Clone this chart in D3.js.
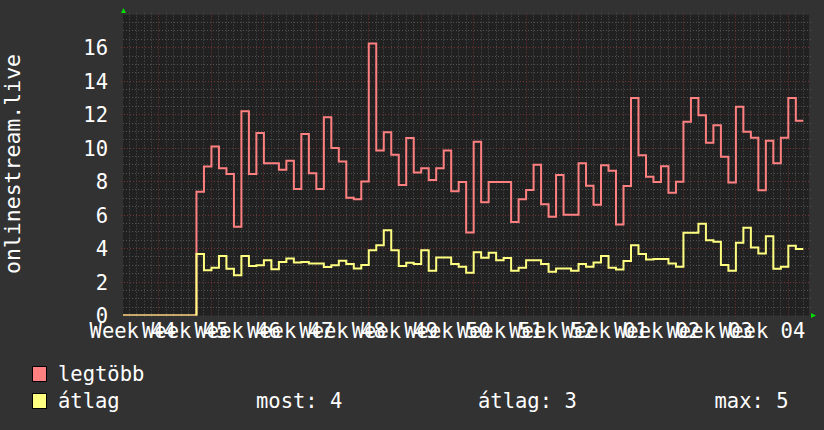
<!DOCTYPE html>
<html><head><meta charset="utf-8">
<script src="https://cdn.jsdelivr.net/npm/d3@7/dist/d3.min.js"></script>
<style>
body{margin:0;background:#323232;}
svg{display:block;}
text{font-family:"DejaVu Sans Mono",monospace;fill:#ffffff;}
</style>
</head><body>
<svg id="chart" width="824" height="430"></svg>
<script>
// ---- data (days counted from the Monday that starts Week 44) ----
const weekLabels = ["Week 44","Week 45","Week 46","Week 47","Week 48","Week 49","Week 50",
                    "Week 51","Week 52","Week 01","Week 02","Week 03","Week 04"];
const firstDay = 2;   // day index of the first value below
const legtobb = [0,0,0,0,0,0,0,0,0,0,
  7.4,8.9,10.1,8.8,8.45,5.3,12.2,8.45,10.9,9.1,9.1,8.7,9.25,7.55,10.85,8.5,
  7.55,11.85,10.0,9.2,7.03,6.95,8.0,16.25,9.85,10.95,9.6,7.8,10.6,8.55,8.8,8.1,
  8.8,9.85,7.43,7.97,4.96,10.38,6.77,7.97,7.97,7.97,5.58,6.95,7.5,9.0,6.65,5.9,
  8.39,6.02,6.02,9.1,7.75,6.61,8.98,8.65,5.44,7.73,12.99,9.58,8.29,7.97,8.92,7.33,
  7.99,11.57,12.99,11.97,10.32,11.37,9.48,7.95,12.47,10.98,10.62,7.49,10.44,9.1,10.62,12.99,11.63];
const atlag = [0,0,0,0,0,0,0,0,0,0,
  3.67,2.7,2.85,3.55,2.8,2.4,3.55,2.95,3.0,3.3,2.77,3.2,3.4,3.17,3.2,3.1,
  3.1,2.9,3.0,3.27,3.07,2.81,3.01,3.9,4.2,5.1,3.9,2.95,3.15,3.07,3.9,2.67,
  3.47,3.47,3.07,2.91,2.55,3.78,3.45,3.75,3.3,3.43,2.67,2.85,3.3,3.3,3.07,2.61,
  2.81,2.81,2.67,3.07,2.91,3.17,3.55,2.85,2.75,3.25,4.2,3.67,3.35,3.37,3.37,3.1,
  2.91,4.94,4.94,5.48,4.5,4.4,3.01,2.67,4.34,5.24,4.06,3.71,4.74,2.79,2.91,4.16,3.98];
const yTicks = [0,2,4,6,8,10,12,14,16];
const seriesNames = ["legtöbb","átlag"];
const seriesColors = ["#ff8080","#ffff80"];
const statLabels = ["most: 4","átlag: 3","max: 5"];
const yTitle = "onlinestream.live";

// ---- layout ----
const L = 123, R = 809, T = 14.7, B = 315.5;
const svg = d3.select("#chart");
svg.append("rect").attr("width",824).attr("height",430).attr("fill","#323232");
svg.append("rect").attr("x",L).attr("y",T).attr("width",R-L).attr("height",B-T).attr("fill","#212121");

const x = d3.scaleLinear().domain([2.195, 93.76]).range([L, R]);
const y = d3.scaleLinear().domain([0, 17.97]).range([B, T]);
const px = v => Math.floor(v) + 0.5;

// grid
const g = svg.append("g");
const minorY = d3.range(0.5, 18, 0.5).filter(v => v % 2 !== 0);
g.selectAll(".hm").data(minorY).enter().append("line")
  .attr("x1",L).attr("x2",R+2).attr("y1",d=>px(y(d))).attr("y2",d=>px(y(d)))
  .attr("stroke","#525252").attr("stroke-dasharray","1,2");
const dayLines = d3.range(3, 94).filter(d => d % 7 !== 0);
g.selectAll(".vm").data(dayLines).enter().append("line")
  .attr("x1",d=>px(x(d))).attr("x2",d=>px(x(d))).attr("y1",T-2).attr("y2",B+2)
  .attr("stroke","#525252").attr("stroke-dasharray","1,2");
g.selectAll(".hM").data(yTicks.filter(v=>v>0)).enter().append("line")
  .attr("x1",L-2).attr("x2",R+2).attr("y1",d=>px(y(d))).attr("y2",d=>px(y(d)))
  .attr("stroke","#743434").attr("stroke-dasharray","1,2");
const weekLines = d3.range(7, 94, 7);
g.selectAll(".vM").data(weekLines).enter().append("line")
  .attr("x1",d=>px(x(d))).attr("x2",d=>px(x(d))).attr("y1",T-2).attr("y2",B+3)
  .attr("stroke","#743434").attr("stroke-dasharray","1,2");

// lines
svg.append("clipPath").attr("id","clip").append("rect")
  .attr("x",L).attr("y",T-2).attr("width",R-L).attr("height",B-T+2);
const line = d3.line().x(d=>x(d[0])).y(d=>y(d[1])).curve(d3.curveStepAfter);
function pts(vals){
  const p = vals.map((v,i)=>[firstDay+i, v]);
  p.push([firstDay+vals.length, vals[vals.length-1]]);
  return p;
}
[legtobb, atlag].forEach((s,i)=>{
  svg.append("path").attr("d", line(pts(s))).attr("fill","none")
    .attr("stroke", seriesColors[i]).attr("stroke-width",2)
    .attr("clip-path","url(#clip)");
});

// arrows
svg.append("path").attr("d","M121,13 L126,13 L123.5,8 Z").attr("fill","#00dd00");
svg.append("path").attr("d","M811,313 L811,318 L816,315.5 Z").attr("fill","#00dd00");

// y tick labels
svg.selectAll(".yl").data(yTicks).enter().append("text")
  .attr("x",108).attr("y",d=>y(d)+7.5).attr("text-anchor","end")
  .attr("font-size","20.5px").text(d=>d);

// x labels (centered mid-week)
svg.selectAll(".xl").data(weekLabels).enter().append("text")
  .attr("x",(d,i)=>x(i*7+3.5)).attr("y",338).attr("text-anchor","middle")
  .attr("font-size","20.5px").text(d=>d);

// y title
svg.append("text").attr("transform","translate(20,164) rotate(-90)")
  .attr("text-anchor","middle").attr("font-size","21.5px").text(yTitle);

// legend
const legY = [366.5, 393.5];
seriesNames.forEach((n,i)=>{
  svg.append("rect").attr("x",32.5).attr("y",legY[i]).attr("width",14).attr("height",15)
    .attr("fill",seriesColors[i]).attr("stroke","#000");
  svg.append("text").attr("x",58).attr("y",legY[i]+14.5).attr("font-size","20.5px").text(n);
});
const statX = [256, 478, 714.5];
statLabels.forEach((s,i)=>{
  svg.append("text").attr("x",statX[i]).attr("y",408).attr("font-size","20.5px").text(s);
});
</script>
</body></html>
